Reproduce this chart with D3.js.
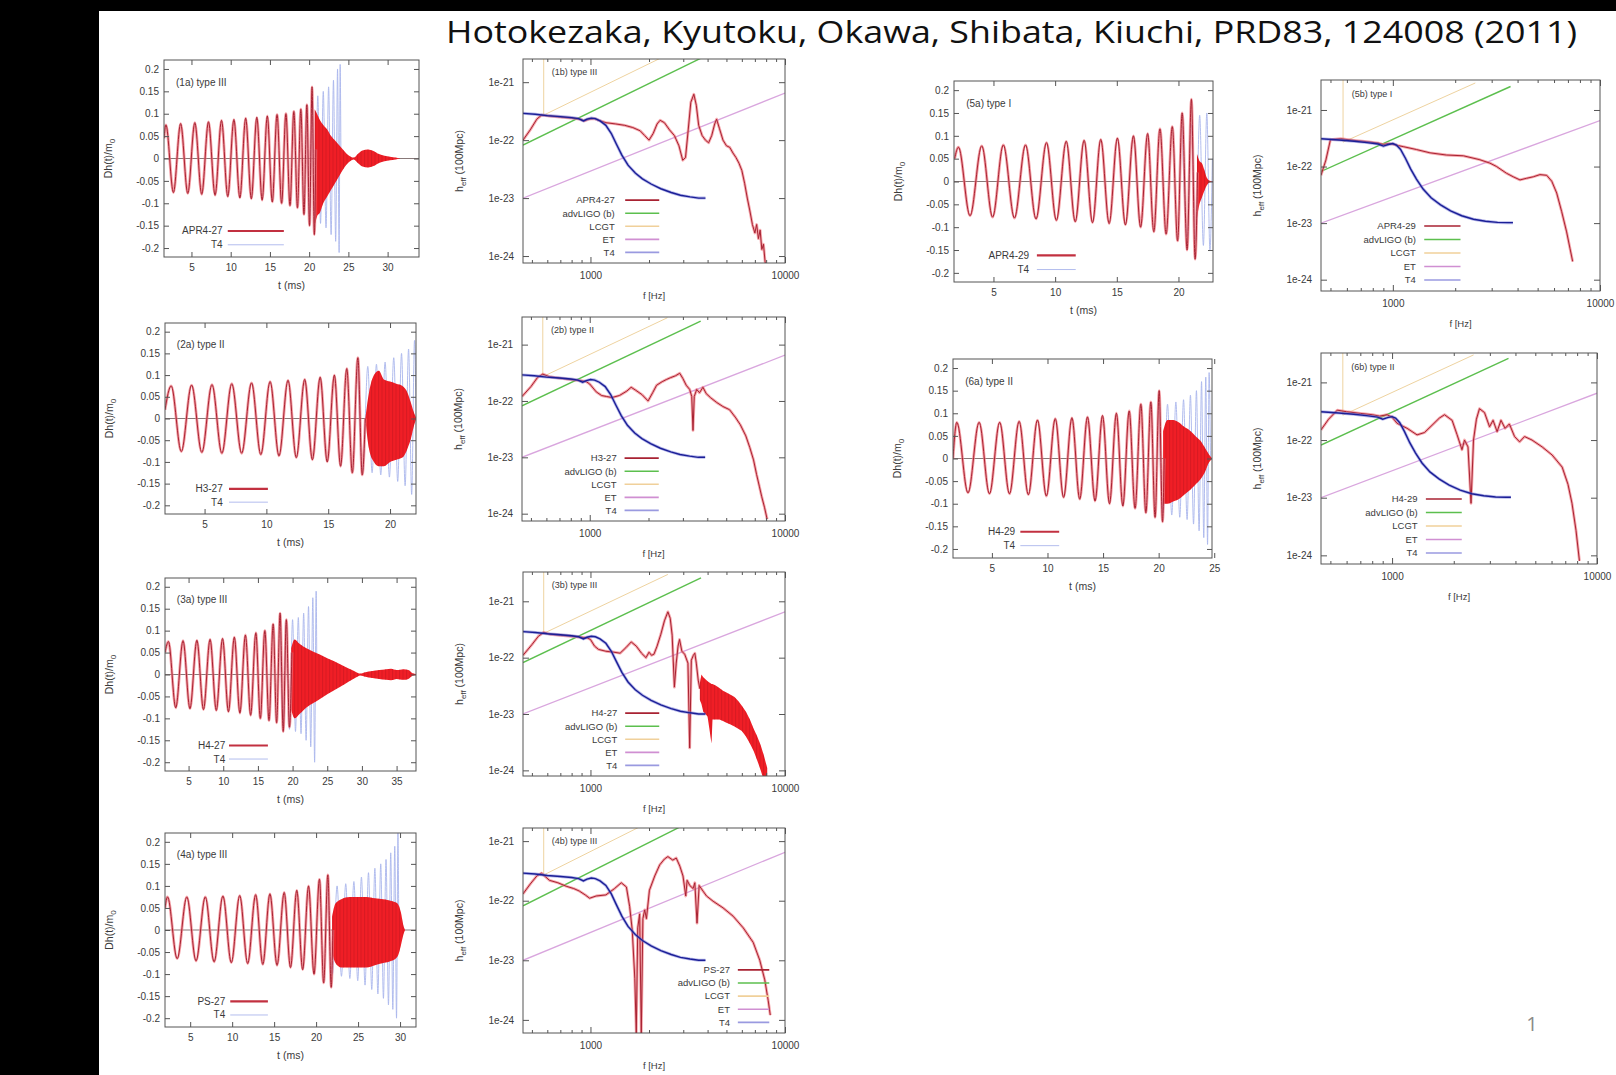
<!DOCTYPE html>
<html>
<head>
<meta charset="utf-8">
<script src="https://cdn.jsdelivr.net/npm/d3@7"></script>
<style>
  html, body { margin: 0; padding: 0; background: #000; }
  svg { display: block; }
</style>
</head>
<body>
<script>
// ---------------- data ----------------
const titleText = 'Hotokezaka, Kyutoku, Okawa, Shibata, Kiuchi, PRD83, 124008 (2011)';
const modelNames = ['APR4-27', 'H3-27', 'H4-27', 'PS-27', 'APR4-29', 'H4-29'];
const mergerTypes = ['III', 'II', 'III', 'III', 'I', 'II'];
const panelIds = ['1', '2', '3', '4', '5', '6'];
const detectorNames = ['advLIGO (b)', 'LCGT', 'ET', 'T4'];

const strainTicks = [-0.2, -0.15, -0.1, -0.05, 0, 0.05, 0.1, 0.15, 0.2];
const timeTicks1a = [5, 10, 15, 20, 25, 30];
const timeTicks2a = [5, 10, 15, 20];
const timeTicks3a = [5, 10, 15, 20, 25, 30, 35];
const timeTicks4a = [5, 10, 15, 20, 25, 30];
const timeTicks5a = [5, 10, 15, 20];
const timeTicks6a = [5, 10, 15, 20, 25];
const freqTicks = [1000, 10000];
const freqMinorTicks = [500, 600, 700, 800, 900, 2000, 3000, 4000, 5000, 6000, 7000, 8000, 9000];
const heffTicks = [1e-24, 1e-23, 1e-22, 1e-21];

// Inspiral waveforms: successive extrema [t (ms), Dh/m0]
const wave1a = [[1.5,0.045],[1.75,0.075],[2.7,-0.076],[3.62,0.078],[4.53,-0.078],[5.43,0.08],[6.31,-0.08],[7.17,0.082],[8.01,-0.082],[8.83,0.085],[9.63,-0.085],[10.41,0.087],[11.17,-0.088],[11.91,0.09],[12.63,-0.09],[13.33,0.092],[14.01,-0.093],[14.67,0.095],[15.3,-0.097],[15.91,0.098],[16.49,-0.1],[17.04,0.1],[17.56,-0.105],[18.05,0.105],[18.51,-0.11],[18.94,0.11],[19.34,-0.125],[19.71,0.12],[20.05,-0.15],[20.37,0.16],[20.66,-0.17],[20.85,0.02]];
const wave2a = [[1.8,0.02],[2.3,0.075],[3.12,-0.076],[3.95,0.077],[4.78,-0.078],[5.6,0.078],[6.4,-0.08],[7.2,0.08],[8.0,-0.08],[8.8,0.082],[9.55,-0.083],[10.3,0.085],[11.02,-0.086],[11.75,0.088],[12.42,-0.09],[13.1,0.09],[13.72,-0.095],[14.35,0.095],[14.92,-0.1],[15.5,0.1],[16.0,-0.11],[16.5,0.115],[16.95,-0.125],[17.4,0.14],[17.75,-0.13],[18.0,0.0]];
const wave3a = [[1.6,0.05],[2.1,0.075],[3.15,-0.076],[4.2,0.077],[5.2,-0.078],[6.2,0.078],[7.15,-0.08],[8.1,0.08],[9.0,-0.082],[9.9,0.082],[10.75,-0.085],[11.6,0.085],[12.4,-0.088],[13.2,0.09],[13.95,-0.093],[14.7,0.095],[15.35,-0.1],[16.0,0.1],[16.6,-0.105],[17.2,0.115],[17.7,-0.11],[18.2,0.14],[18.65,-0.13],[19.1,0.125],[19.55,-0.12],[19.9,0.05]];
const wave4a = [[2.0,0.05],[2.3,0.075],[3.45,-0.065],[4.6,0.075],[5.7,-0.07],[6.8,0.075],[7.85,-0.072],[8.9,0.077],[9.9,-0.074],[10.9,0.078],[11.85,-0.076],[12.8,0.08],[13.65,-0.078],[14.5,0.082],[15.35,-0.08],[16.2,0.085],[16.95,-0.085],[17.7,0.09],[18.4,-0.09],[19.1,0.1],[19.75,-0.1],[20.4,0.115],[20.9,-0.12],[21.4,0.125],[21.8,-0.13],[22.0,0.0]];
const wave5a = [[1.85,0.05],[2.16,0.075],[3.1,-0.075],[4.05,0.078],[4.93,-0.078],[5.8,0.08],[6.7,-0.08],[7.6,0.08],[8.45,-0.082],[9.3,0.085],[10.1,-0.085],[10.9,0.088],[11.63,-0.088],[12.35,0.09],[13.03,-0.09],[13.7,0.092],[14.38,-0.092],[15.05,0.095],[15.7,-0.095],[16.35,0.1],[16.93,-0.1],[17.5,0.105],[18.0,-0.11],[18.5,0.115],[19.0,-0.115],[19.5,0.12],[19.93,-0.13],[20.3,0.15],[20.7,-0.15],[21.05,0.18],[21.35,-0.17],[21.55,0.02]];
const wave6a = [[1.5,0.0],[1.84,0.08],[2.85,-0.076],[3.85,0.08],[4.78,-0.078],[5.7,0.08],[6.58,-0.078],[7.45,0.082],[8.28,-0.08],[9.1,0.085],[9.9,-0.083],[10.7,0.088],[11.45,-0.086],[12.2,0.09],[12.9,-0.09],[13.6,0.092],[14.28,-0.094],[14.95,0.095],[15.58,-0.1],[16.2,0.1],[16.78,-0.105],[17.35,0.105],[17.88,-0.11],[18.4,0.12],[18.85,-0.12],[19.3,0.125],[19.68,-0.13],[20.05,0.15],[20.35,-0.14],[20.5,0.0]];

// Post-merger envelopes: [t (ms), upper, lower]
const merger1a = [[20.7,0.11,-0.15],[21.0,0.1,-0.13],[21.4,0.085,-0.12],[21.8,0.075,-0.1],[22.3,0.065,-0.085],[22.8,0.05,-0.07],[23.3,0.04,-0.055],[23.8,0.03,-0.04],[24.3,0.02,-0.025],[24.8,0.01,-0.013],[25.3,0.004,-0.005],[25.7,0.002,-0.002],[26.2,0.01,-0.01],[26.8,0.018,-0.018],[27.5,0.02,-0.02],[28.2,0.017,-0.017],[28.9,0.01,-0.01],[29.6,0.006,-0.006],[30.3,0.004,-0.004],[31.0,0.002,-0.002],[31.6,0.0,0.0]];
const merger2a = [[18.0,0.0,0.0],[18.3,0.06,-0.07],[18.7,0.1,-0.1],[19.1,0.11,-0.11],[19.5,0.09,-0.11],[20.0,0.085,-0.1],[20.5,0.08,-0.095],[21.0,0.075,-0.09],[21.4,0.06,-0.07],[21.7,0.035,-0.045],[21.95,0.012,-0.015],[22.1,0.003,-0.003]];
const merger3a = [[19.8,0.06,-0.08],[20.3,0.08,-0.1],[21.0,0.07,-0.09],[22.0,0.06,-0.075],[23.0,0.052,-0.065],[24.0,0.045,-0.055],[25.0,0.037,-0.045],[26.0,0.03,-0.036],[27.0,0.022,-0.027],[28.0,0.014,-0.017],[29.0,0.007,-0.008],[29.8,0.002,-0.002],[30.5,0.005,-0.005],[31.5,0.008,-0.008],[32.5,0.01,-0.01],[33.5,0.012,-0.012],[34.2,0.013,-0.013],[35.0,0.01,-0.01],[36.0,0.012,-0.012],[36.7,0.01,-0.01],[37.3,0.003,-0.003],[37.8,0.001,-0.001]];
const merger4a = [[21.9,0.03,-0.05],[22.3,0.06,-0.075],[23.0,0.07,-0.085],[24.0,0.075,-0.085],[25.0,0.075,-0.085],[26.0,0.075,-0.085],[27.0,0.072,-0.08],[28.0,0.07,-0.075],[29.0,0.066,-0.07],[29.7,0.06,-0.06],[30.1,0.04,-0.035],[30.4,0.01,-0.01],[30.6,0.0,0.0]];
const merger5a = [[21.5,0.06,-0.08],[21.7,0.045,-0.05],[21.9,0.04,-0.035],[22.1,0.025,-0.02],[22.3,0.008,-0.008],[22.5,0.002,-0.002],[22.8,0.0,0.0]];
const merger6a = [[20.4,0.06,-0.1],[20.8,0.085,-0.1],[21.3,0.085,-0.095],[21.8,0.08,-0.09],[22.3,0.07,-0.08],[22.8,0.062,-0.07],[23.3,0.05,-0.058],[23.8,0.038,-0.045],[24.2,0.022,-0.028],[24.5,0.01,-0.01],[24.75,0.002,-0.002]];

// Taylor T4 waveforms where they depart from the simulations: [t (ms), Dh/m0]
const t4wave1a = [[19.7,0.12],[20.05,-0.13],[20.4,0.135],[20.75,-0.14],[21.1,0.14],[21.45,-0.145],[21.8,0.15],[22.15,-0.155],[22.48,0.16],[22.8,-0.17],[23.1,0.175],[23.38,-0.185],[23.62,0.2],[23.82,-0.21],[23.95,0.21],[24.05,0.0]];
const t4wave2a = [[17.4,0.12],[17.8,-0.12],[18.2,0.12],[18.55,-0.125],[18.9,0.125],[19.25,-0.13],[19.6,0.13],[19.95,-0.135],[20.3,0.14],[20.62,-0.145],[20.93,0.15],[21.22,-0.155],[21.5,0.16],[21.75,-0.175],[21.98,0.18],[22.15,-0.1]];
const t4wave3a = [[18.2,0.12],[18.65,-0.12],[19.1,0.12],[19.55,-0.125],[20.0,0.125],[20.42,-0.13],[20.83,0.13],[21.22,-0.135],[21.6,0.14],[21.95,-0.15],[22.3,0.155],[22.62,-0.165],[22.92,0.175],[23.18,-0.2],[23.4,0.19],[23.5,0.0]];
const t4wave4a = [[21.4,0.1],[21.95,-0.1],[22.5,0.1],[23.02,-0.105],[23.53,0.105],[24.02,-0.11],[24.5,0.11],[24.96,-0.115],[25.4,0.12],[25.83,-0.125],[26.24,0.13],[26.63,-0.135],[27.0,0.14],[27.36,-0.145],[27.7,0.15],[28.02,-0.155],[28.33,0.16],[28.62,-0.17],[28.89,0.175],[29.14,-0.18],[29.37,0.19],[29.58,-0.2],[29.75,0.22],[29.85,0.0]];
const t4wave5a = [[20.3,0.12],[20.7,-0.12],[21.05,0.125],[21.4,-0.13],[21.72,0.145],[22.02,-0.14],[22.3,0.15],[22.55,-0.15],[22.75,0.05]];
const t4wave6a = [[20.0,0.12],[20.4,-0.12],[20.8,0.12],[21.18,-0.125],[21.55,0.125],[21.9,-0.13],[22.24,0.13],[22.56,-0.135],[22.86,0.14],[23.14,-0.145],[23.4,0.15],[23.64,-0.16],[23.86,0.17],[24.06,-0.175],[24.24,0.18],[24.4,-0.19],[24.54,0.19],[24.66,0.0]];

// Effective amplitude spectra at 100 Mpc: [f (Hz), h_eff]
const spec1b = [[450,1.0e-22],[490,1.5e-22],[530,2.3e-22],[560,2.7e-22],[620,2.6e-22],[700,2.5e-22],[800,2.4e-22],[880,2.3e-22],[930,2.15e-22],[980,2.3e-22],[1050,2.35e-22],[1100,2.2e-22],[1200,2.0e-22],[1350,1.9e-22],[1500,1.8e-22],[1650,1.65e-22],[1800,1.45e-22],[1900,1.2e-22],[2000,1.0e-22],[2100,1.3e-22],[2200,1.9e-22],[2280,2.2e-22],[2400,2.0e-22],[2550,1.5e-22],[2700,1.2e-22],[2850,8e-23],[2980,4.5e-23],[3080,5e-23],[3180,1.5e-22],[3280,4.5e-22],[3400,6.2e-22],[3500,4e-22],[3600,1.8e-22],[3750,1.2e-22],[3900,1.0e-22],[4050,9e-23],[4200,1.2e-22],[4350,1.9e-22],[4450,2.3e-22],[4600,1.6e-22],[4800,1.0e-22],[5000,8e-23],[5200,7.5e-23],[5400,6e-23],[5600,5e-23],[5800,4e-23],[6000,3e-23],[6200,1.8e-23],[6400,1.0e-23],[6600,6e-24],[6800,3.5e-24],[7000,2.5e-24],[7150,3.5e-24],[7300,2e-24],[7450,2.8e-24],[7600,1.3e-24],[7750,1.6e-24],[7900,8e-25],[8050,6e-25]];
const spec2b = [[450,1.2e-22],[500,1.8e-22],[540,2.6e-22],[575,3.0e-22],[620,2.7e-22],[700,2.55e-22],[800,2.4e-22],[900,2.3e-22],[960,2.2e-22],[1000,2.0e-22],[1080,1.45e-22],[1150,1.25e-22],[1220,1.2e-22],[1300,1.15e-22],[1420,1.25e-22],[1550,1.5e-22],[1630,1.75e-22],[1720,1.55e-22],[1850,1.3e-22],[1990,1.0e-22],[2100,1.4e-22],[2200,1.9e-22],[2350,2.2e-22],[2470,2.4e-22],[2600,2.6e-22],[2750,2.8e-22],[2890,3.1e-22],[3000,2.5e-22],[3120,1.9e-22],[3250,1.6e-22],[3330,1.2e-22],[3380,3.0e-23],[3430,1.2e-22],[3530,1.6e-22],[3650,1.4e-22],[3800,1.75e-22],[3950,1.35e-22],[4150,1.15e-22],[4450,9.5e-23],[4800,8e-23],[5200,7e-23],[5600,5e-23],[5900,3.8e-23],[6300,2.4e-23],[6600,1.5e-23],[6900,9e-24],[7150,5e-24],[7400,3e-24],[7600,2e-24],[7850,1.3e-24],[8100,8e-25]];
const spec3b = [[450,1.1e-22],[500,1.7e-22],[540,2.4e-22],[575,2.8e-22],[620,2.6e-22],[700,2.5e-22],[800,2.4e-22],[900,2.3e-22],[960,2.25e-22],[1000,2.1e-22],[1050,1.6e-22],[1100,1.4e-22],[1200,1.3e-22],[1320,1.25e-22],[1420,1.2e-22],[1520,1.5e-22],[1620,1.9e-22],[1720,1.6e-22],[1830,1.2e-22],[1930,1.0e-22],[2000,1.25e-22],[2060,1.1e-22],[2120,1.15e-22],[2200,1.6e-22],[2300,2.6e-22],[2400,4.5e-22],[2500,6.5e-22],[2570,5e-22],[2630,2.5e-22],[2700,3e-23],[2760,8e-23],[2820,1.6e-22],[2870,2.1e-22],[2950,1.3e-22],[3050,1.15e-22],[3170,8e-23],[3236,2.5e-24],[3300,9e-23],[3380,1.1e-22],[3440,1.2e-22],[3500,8e-23],[3580,4e-23],[3650,2.8e-23]];
const band3b = [[3650,3.5e-23,1.8e-23],[3720,5e-23,1.5e-23],[3800,4.5e-23,1.1e-23],[4000,3.8e-23,9e-24],[4190,3.4e-23,3e-24],[4240,3.4e-23,8e-24],[4400,3.2e-23,8e-24],[4600,2.9e-23,8e-24],[4800,2.6e-23,7.5e-24],[5000,2.4e-23,7e-24],[5250,2.2e-23,6.5e-24],[5500,2.0e-23,6e-24],[5750,1.7e-23,5.5e-24],[6000,1.4e-23,5e-24],[6300,1.1e-23,4e-24],[6600,8e-24,3e-24],[6900,5.5e-24,2.2e-24],[7200,4e-24,1.5e-24],[7500,2.8e-24,1e-24],[7800,1.8e-24,6.5e-25],[8100,1.1e-24,4e-25]];
const spec4b = [[450,1.3e-22],[490,1.9e-22],[530,2.6e-22],[560,2.9e-22],[615,2.2e-22],[680,2.0e-22],[750,1.75e-22],[820,1.6e-22],[877,1.45e-22],[940,1.25e-22],[990,1.1e-22],[1070,1.2e-22],[1200,1.25e-22],[1330,1.6e-22],[1440,2.0e-22],[1530,1.7e-22],[1590,8e-23],[1640,3.2e-23],[1690,5e-24],[1720,6e-25],[1750,3.5e-23],[1790,6e-23],[1825,6e-25],[1860,5e-23],[1900,7e-23],[1940,5e-23],[2010,1.5e-22],[2140,2.6e-22],[2270,4e-22],[2400,5e-22],[2500,5.5e-22],[2650,4.8e-22],[2760,5.2e-22],[2880,3.8e-22],[2990,2.6e-22],[3090,1.2e-22],[3140,2.2e-22],[3240,1.8e-22],[3370,1.6e-22],[3440,2.0e-22],[3530,4.2e-23],[3620,1.8e-22],[3790,1.45e-22],[3950,1.2e-22],[4270,9.8e-23],[4800,7.6e-23],[5410,5.5e-23],[6100,3.5e-23],[6860,2e-23],[7420,1.0e-23],[7870,4.7e-24],[8200,2.1e-24],[8400,1.2e-24]];
const spec5b = [[450,7e-23],[475,1.3e-22],[500,3.0e-22],[560,3.1e-22],[650,2.9e-22],[750,2.75e-22],[850,2.6e-22],[900,2.45e-22],[950,2.55e-22],[1000,2.5e-22],[1060,2.35e-22],[1122,2.25e-22],[1300,2.0e-22],[1510,1.75e-22],[1810,1.6e-22],[2190,1.55e-22],[2630,1.32e-22],[2940,1.15e-22],[3170,1.0e-22],[3540,7.6e-23],[3810,6.6e-23],[4110,5.8e-23],[4420,6.2e-23],[4770,6.6e-23],[5130,7.2e-23],[5530,7e-23],[5850,5.5e-23],[6180,3.4e-23],[6530,1.6e-23],[6900,7e-24],[7160,3.6e-24],[7380,2.1e-24]];
const spec6b = [[450,1.5e-22],[490,2.3e-22],[540,3.3e-22],[600,3.1e-22],[700,2.9e-22],[800,2.75e-22],[870,2.6e-22],[945,2.75e-22],[1000,2.5e-22],[1058,1.95e-22],[1183,1.6e-22],[1324,1.23e-22],[1440,1.35e-22],[1566,1.8e-22],[1700,2.4e-22],[1803,2.75e-22],[1963,2.2e-22],[2074,1.25e-22],[2194,6.8e-23],[2257,1.0e-22],[2347,7.6e-23],[2428,8e-24],[2497,1.0e-22],[2580,2.3e-22],[2670,3.5e-22],[2825,3.0e-22],[2990,1.7e-22],[3110,2.2e-22],[3255,1.4e-22],[3400,2.2e-22],[3560,1.6e-22],[3735,1.9e-22],[3960,1.15e-22],[4190,9.3e-23],[4430,1.15e-22],[4820,1.0e-22],[5400,7.6e-23],[6040,5.5e-23],[6760,3.4e-23],[7220,1.7e-23],[7550,8e-24],[7900,2.7e-24],[8210,8e-25]];

// Taylor T4 spectra for total masses 2.7 and 2.9 Msun
const t4Spec27 = [[450,2.9e-22],[520,2.8e-22],[600,2.65e-22],[700,2.55e-22],[800,2.45e-22],[870,2.35e-22],[920,2.15e-22],[960,2.3e-22],[1010,2.4e-22],[1060,2.35e-22],[1120,2.15e-22],[1200,1.8e-22],[1280,1.3e-22],[1360,8.5e-23],[1450,5.5e-23],[1560,3.7e-23],[1700,2.7e-23],[1850,2.15e-23],[2050,1.75e-23],[2300,1.45e-23],[2600,1.25e-23],[2900,1.12e-23],[3250,1.05e-23],[3600,1.0e-23],[3900,1.0e-23]];
const t4Spec29 = [[450,3.1e-22],[550,2.95e-22],[650,2.8e-22],[750,2.65e-22],[850,2.5e-22],[900,2.3e-22],[950,2.45e-22],[1000,2.55e-22],[1040,2.4e-22],[1090,2.0e-22],[1150,1.4e-22],[1220,9e-23],[1300,6e-23],[1400,4e-23],[1530,2.8e-23],[1700,2.1e-23],[1900,1.65e-23],[2150,1.35e-23],[2450,1.17e-23],[2800,1.08e-23],[3200,1.03e-23],[3600,1.02e-23],[3800,1.02e-23]];

// Detector noise curves (effective amplitude)
const advLigoNoise = [[450,8.2e-23],[3700,2.6e-21]];
const lcgtNoise = [[575,4e-21],[575,2.7e-22],[2500,3e-21]];
const etNoise = [[450,1.0e-23],[10000,6.5e-22]];

// ---------------- layout ----------------
const W = 1616, H = 1075;
const layoutA = [
  { x0: 164, x1: 419, y0: 60,  y1: 257,  t: [1.5, 34.0], legX: 0.23, legLine: [0.25, 0.47] },
  { x0: 165, x1: 416, y0: 323, y1: 514,  t: [1.8, 22.1], legX: 0.23, legLine: [0.255, 0.41] },
  { x0: 165, x1: 416, y0: 578, y1: 771,  t: [1.6, 37.8], legX: 0.24, legLine: [0.255, 0.41] },
  { x0: 165, x1: 416, y0: 833, y1: 1027, t: [2.0, 31.9], legX: 0.24, legLine: [0.26, 0.41] },
  { x0: 954, x1: 1213, y0: 81, y1: 282,  t: [1.8, 22.8], legX: 0.29, legLine: [0.32, 0.47] },
  { x0: 953, x1: 1212, y0: 359, y1: 558, t: [1.5, 24.8], legX: 0.24, legLine: [0.26, 0.41] }
];
const layoutB = [
  { x0: 523, x1: 785, y0: 59,  y1: 263,  logH: [-24.12, -20.6],  legX: 0.35, legLine: [0.39, 0.52] },
  { x0: 522, x1: 785, y0: 317, y1: 521,  logH: [-24.13, -20.51], legX: 0.36, legLine: [0.39, 0.52] },
  { x0: 523, x1: 785, y0: 572, y1: 776,  logH: [-24.1, -20.48],  legX: 0.36, legLine: [0.39, 0.52] },
  { x0: 523, x1: 785, y0: 828, y1: 1033, logH: [-24.22, -20.78], legX: 0.79, legLine: [0.82, 0.94] },
  { x0: 1321, x1: 1600, y0: 80, y1: 291, logH: [-24.2, -20.47],  legX: 0.34, legLine: [0.37, 0.50] },
  { x0: 1321, x1: 1597, y0: 353, y1: 564, logH: [-24.15, -20.49], legX: 0.35, legLine: [0.38, 0.51] }
];

const waves = [wave1a, wave2a, wave3a, wave4a, wave5a, wave6a];
const mergers = [merger1a, merger2a, merger3a, merger4a, merger5a, merger6a];
const t4waves = [t4wave1a, t4wave2a, t4wave3a, t4wave4a, t4wave5a, t4wave6a];
const timeTicks = [timeTicks1a, timeTicks2a, timeTicks3a, timeTicks4a, timeTicks5a, timeTicks6a];
const spectra = [spec1b, spec2b, spec3b, spec4b, spec5b, spec6b];
const t4Spectra = [t4Spec27, t4Spec27, t4Spec27, t4Spec27, t4Spec29, t4Spec29];

// ---------------- styles ----------------
const FONT = '"Liberation Sans", Arial, sans-serif';
const TXT = '#3a3a3a';
const FRAME = '#555';
const RED_CORE = '#a82232', RED_HALO = '#f07880', RED_FILL = '#f01e26';
const T4_WAVE = '#a9b5ec';
const BLUE_CORE = '#1b1f96', BLUE_HALO = '#6d70d6';
const GREEN = '#5cbf4e', LCGT_C = '#eed3a0', ET_C = '#d9a6de';
const LEG_COLORS = [GREEN, '#f0d09a', '#d08fd2', '#9a9ae0'];

const svg = d3.select('body').append('svg').attr('width', W).attr('height', H);
svg.append('rect').attr('width', W).attr('height', H).attr('fill', '#000');
svg.append('rect').attr('x', 99).attr('y', 11).attr('width', W - 99).attr('height', H - 11).attr('fill', '#fff');

svg.append('text')
  .attr('x', 446).attr('y', 43)
  .attr('font-family', '"Open Sans", "Noto Sans", sans-serif')
  .attr('font-size', 31).attr('fill', '#111')
  .attr('textLength', 1131).attr('lengthAdjust', 'spacingAndGlyphs')
  .text(titleText);

svg.append('text').attr('x', 1532).attr('y', 1031)
  .attr('font-family', '"Open Sans", sans-serif').attr('font-size', 20)
  .attr('fill', '#8a8a8a').attr('text-anchor', 'middle').text('1');

const defs = svg.append('defs');

// vertical streaks that give the dense post-merger oscillations their texture
const hatch = defs.append('pattern').attr('id', 'hatch').attr('patternUnits', 'userSpaceOnUse')
  .attr('width', 3.5).attr('height', 6);
hatch.append('line').attr('x1', 0.6).attr('x2', 0.6).attr('y1', 0).attr('y2', 6)
  .attr('stroke', '#a8101a').attr('stroke-width', 0.8).attr('stroke-opacity', 0.5);

function styleAxis(g, size) {
  g.select('.domain').remove();
  g.attr('font-family', FONT).attr('font-size', size).attr('color', TXT);
  g.selectAll('.tick line').attr('stroke', FRAME);
}

function clipFor(id, L) {
  defs.append('clipPath').attr('id', id).append('rect')
    .attr('x', L.x0).attr('y', L.y0).attr('width', L.x1 - L.x0).attr('height', L.y1 - L.y0);
  return `url(#${id})`;
}

// ---------------- waveform panels ----------------
function wavePanel(i) {
  const L = layoutA[i];
  const x = d3.scaleLinear().domain(L.t).range([L.x0, L.x1]);
  const y = d3.scaleLinear().domain([-0.22, 0.22]).range([L.y1, L.y0]);
  const w = L.x1 - L.x0, h = L.y1 - L.y0;
  const g = svg.append('g');
  const plot = g.append('g').attr('clip-path', clipFor('clipA' + i, L));

  const line = d3.line().x(d => x(d[0])).y(d => y(d[1])).curve(d3.curveMonotoneX);
  const area = d3.area().x(d => x(d[0])).y0(d => y(d[2])).y1(d => y(d[1])).curve(d3.curveMonotoneX);

  plot.append('line').attr('x1', L.x0).attr('x2', L.x1).attr('y1', y(0)).attr('y2', y(0))
    .attr('stroke', '#7a6a6a').attr('stroke-width', 0.9);

  // T4 sits beneath the simulation so that only its larger swings show
  plot.append('path').datum(t4waves[i]).attr('d', line)
    .attr('fill', 'none').attr('stroke', T4_WAVE).attr('stroke-width', 0.9);

  plot.append('path').datum(mergers[i]).attr('d', area).attr('fill', RED_FILL);
  plot.append('path').datum(mergers[i]).attr('d', area).attr('fill', 'url(#hatch)');

  plot.append('path').datum(waves[i]).attr('d', line)
    .attr('fill', 'none').attr('stroke', RED_HALO).attr('stroke-width', 2.8).attr('stroke-opacity', 0.7);
  plot.append('path').datum(waves[i]).attr('d', line)
    .attr('fill', 'none').attr('stroke', RED_CORE).attr('stroke-width', 1.0);

  // axes with inward ticks on all four sides
  g.append('g').attr('transform', `translate(0,${L.y1})`)
    .call(d3.axisBottom(x).tickValues(timeTicks[i]).tickSizeInner(-5).tickSizeOuter(0).tickPadding(7))
    .call(a => styleAxis(a, 10));
  g.append('g').attr('transform', `translate(0,${L.y0})`)
    .call(d3.axisTop(x).tickValues(timeTicks[i]).tickSizeInner(-5).tickSizeOuter(0).tickFormat(''))
    .call(a => styleAxis(a, 10));
  g.append('g').attr('transform', `translate(${L.x0},0)`)
    .call(d3.axisLeft(y).tickValues(strainTicks).tickSizeInner(-5).tickSizeOuter(0).tickPadding(5).tickFormat(v => String(v)))
    .call(a => styleAxis(a, 10));
  g.append('g').attr('transform', `translate(${L.x1},0)`)
    .call(d3.axisRight(y).tickValues(strainTicks).tickSizeInner(-5).tickSizeOuter(0).tickFormat(''))
    .call(a => styleAxis(a, 10));

  g.append('rect').attr('x', L.x0).attr('y', L.y0).attr('width', w).attr('height', h)
    .attr('fill', 'none').attr('stroke', FRAME).attr('stroke-width', 1);

  g.append('text').attr('x', L.x0 + 0.047 * w).attr('y', L.y0 + 0.11 * h + 4)
    .attr('font-family', FONT).attr('font-size', 10).attr('fill', TXT)
    .text(`(${panelIds[i]}a) type ${mergerTypes[i]}`);

  g.append('text').attr('x', (L.x0 + L.x1) / 2).attr('y', L.y1 + 32)
    .attr('font-family', FONT).attr('font-size', 10.5).attr('fill', TXT)
    .attr('text-anchor', 'middle').text('t (ms)');

  const yl = g.append('text')
    .attr('transform', `translate(${L.x0 - 52},${(L.y0 + L.y1) / 2}) rotate(-90)`)
    .attr('font-family', FONT).attr('font-size', 10.5).attr('fill', TXT).attr('text-anchor', 'middle');
  yl.append('tspan').text('Dh(t)/m');
  yl.append('tspan').attr('dy', 3).attr('font-size', 8).text('0');

  const legend = [[modelNames[i], '#c23040', 2.2], ['T4', '#b3bdee', 1]];
  legend.forEach((e, k) => {
    const yy = L.y0 + (0.868 + 0.07 * k) * h;
    g.append('text').attr('x', L.x0 + L.legX * w).attr('y', yy + 3.5)
      .attr('font-family', FONT).attr('font-size', 10).attr('fill', TXT)
      .attr('text-anchor', 'end').text(e[0]);
    g.append('line').attr('x1', L.x0 + L.legLine[0] * w).attr('x2', L.x0 + L.legLine[1] * w)
      .attr('y1', yy).attr('y2', yy).attr('stroke', e[1]).attr('stroke-width', e[2]);
  });
}

// ---------------- spectrum panels ----------------
function specPanel(i) {
  const L = layoutB[i];
  const x = d3.scaleLog().domain([450, 10000]).range([L.x0, L.x1]);
  const y = d3.scaleLog().domain([10 ** L.logH[0], 10 ** L.logH[1]]).range([L.y1, L.y0]);
  const w = L.x1 - L.x0, h = L.y1 - L.y0;
  const g = svg.append('g');
  const plot = g.append('g').attr('clip-path', clipFor('clipB' + i, L));
  const line = d3.line().x(d => x(d[0])).y(d => y(d[1]));

  plot.append('path').datum(etNoise).attr('d', line).attr('fill', 'none').attr('stroke', ET_C).attr('stroke-width', 1.3);
  plot.append('path').datum(lcgtNoise).attr('d', line).attr('fill', 'none').attr('stroke', LCGT_C).attr('stroke-width', 1);
  plot.append('path').datum(advLigoNoise).attr('d', line).attr('fill', 'none').attr('stroke', GREEN).attr('stroke-width', 1.4);

  plot.append('path').datum(spectra[i]).attr('d', line).attr('fill', 'none')
    .attr('stroke', RED_HALO).attr('stroke-width', 2.8).attr('stroke-opacity', 0.65).attr('stroke-linejoin', 'round');
  plot.append('path').datum(spectra[i]).attr('d', line).attr('fill', 'none')
    .attr('stroke', RED_CORE).attr('stroke-width', 1.0).attr('stroke-linejoin', 'round');
  if (i === 2) {
    const band = d3.area().x(d => x(d[0])).y0(d => y(d[2])).y1(d => y(d[1]));
    plot.append('path').datum(band3b).attr('d', band).attr('fill', RED_FILL);
    plot.append('path').datum(band3b).attr('d', band).attr('fill', 'url(#hatch)');
  }

  plot.append('path').datum(t4Spectra[i]).attr('d', line).attr('fill', 'none')
    .attr('stroke', BLUE_HALO).attr('stroke-width', 3).attr('stroke-opacity', 0.5);
  plot.append('path').datum(t4Spectra[i]).attr('d', line).attr('fill', 'none')
    .attr('stroke', BLUE_CORE).attr('stroke-width', 1.4);

  const hFmt = v => v.toExponential(0).replace('+', '');
  g.append('g').attr('transform', `translate(0,${L.y1})`)
    .call(d3.axisBottom(x).tickValues(freqTicks).tickSizeInner(-6).tickSizeOuter(0).tickPadding(9).tickFormat(v => String(v)))
    .call(a => styleAxis(a, 10));
  g.append('g').attr('transform', `translate(0,${L.y1})`)
    .call(d3.axisBottom(x).tickValues(freqMinorTicks).tickSizeInner(-3).tickSizeOuter(0).tickFormat(''))
    .call(a => styleAxis(a, 10));
  g.append('g').attr('transform', `translate(0,${L.y0})`)
    .call(d3.axisTop(x).tickValues(freqTicks).tickSizeInner(-6).tickSizeOuter(0).tickFormat(''))
    .call(a => styleAxis(a, 10));
  g.append('g').attr('transform', `translate(0,${L.y0})`)
    .call(d3.axisTop(x).tickValues(freqMinorTicks).tickSizeInner(-3).tickSizeOuter(0).tickFormat(''))
    .call(a => styleAxis(a, 10));
  g.append('g').attr('transform', `translate(${L.x0},0)`)
    .call(d3.axisLeft(y).tickValues(heffTicks).tickSizeInner(-6).tickSizeOuter(0).tickPadding(9).tickFormat(hFmt))
    .call(a => styleAxis(a, 10));
  g.append('g').attr('transform', `translate(${L.x1},0)`)
    .call(d3.axisRight(y).tickValues(heffTicks).tickSizeInner(-6).tickSizeOuter(0).tickFormat(''))
    .call(a => styleAxis(a, 10));

  g.append('rect').attr('x', L.x0).attr('y', L.y0).attr('width', w).attr('height', h)
    .attr('fill', 'none').attr('stroke', FRAME).attr('stroke-width', 1);

  g.append('text').attr('x', L.x0 + 0.11 * w).attr('y', L.y0 + 0.062 * h + 3.5)
    .attr('font-family', FONT).attr('font-size', 9).attr('fill', TXT)
    .text(`(${panelIds[i]}b) type ${mergerTypes[i]}`);

  g.append('text').attr('x', (L.x0 + L.x1) / 2).attr('y', L.y1 + 36)
    .attr('font-family', FONT).attr('font-size', 9.5).attr('fill', TXT)
    .attr('text-anchor', 'middle').text('f [Hz]');

  const yl = g.append('text')
    .attr('transform', `translate(${L.x0 - 60},${(L.y0 + L.y1) / 2}) rotate(-90)`)
    .attr('font-family', FONT).attr('font-size', 10.5).attr('fill', TXT).attr('text-anchor', 'middle');
  yl.append('tspan').text('h');
  yl.append('tspan').attr('dy', 3).attr('font-size', 8).text('eff');
  yl.append('tspan').attr('dy', -3).text(' (100Mpc)');

  const legend = [[modelNames[i], RED_CORE]].concat(detectorNames.map((n, k) => [n, LEG_COLORS[k]]));
  legend.forEach((e, k) => {
    const yy = L.y0 + (0.692 + 0.064 * k) * h;
    g.append('text').attr('x', L.x0 + L.legX * w).attr('y', yy + 3.3)
      .attr('font-family', FONT).attr('font-size', 9.5).attr('fill', TXT)
      .attr('text-anchor', 'end').text(e[0]);
    g.append('line').attr('x1', L.x0 + L.legLine[0] * w).attr('x2', L.x0 + L.legLine[1] * w)
      .attr('y1', yy).attr('y2', yy).attr('stroke', e[1]).attr('stroke-width', 1.6);
  });
}

for (let i = 0; i < 6; i++) { wavePanel(i); specPanel(i); }
</script>
</body>
</html>
